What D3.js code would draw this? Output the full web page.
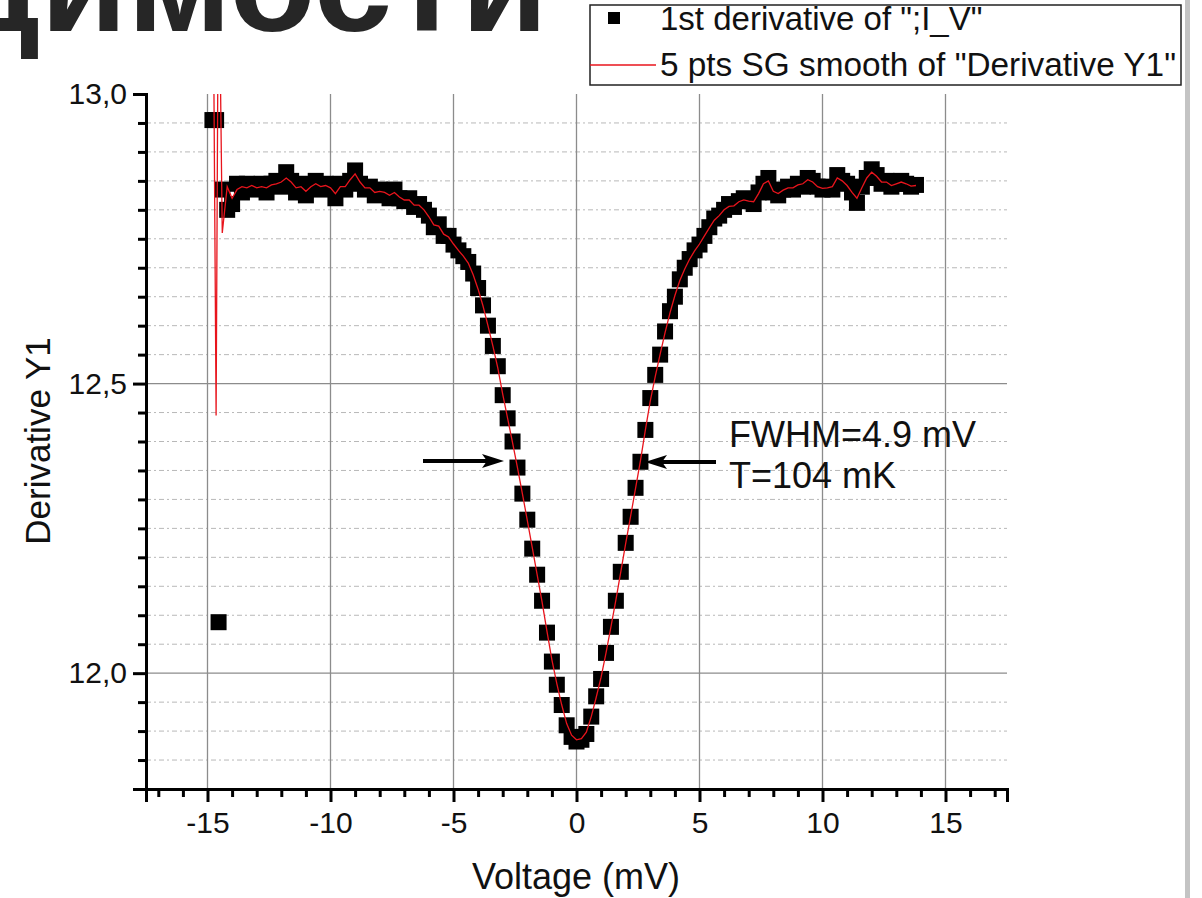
<!DOCTYPE html>
<html>
<head>
<meta charset="utf-8">
<script src="https://cdn.jsdelivr.net/npm/d3@7"></script>
<style>
  body { margin: 0; background: #fff; }
  svg { display: block; font-family: "Liberation Sans", Arial, sans-serif; }
</style>
</head>
<body>
<svg id="chart" width="1202" height="898"></svg>
<script>
// voltage (mV)
var voltage = [-14.8, -14.65, -14.55,
  -14.4, -14.2, -14.0, -13.8, -13.6, -13.4, -13.2, -13.0, -12.8, -12.6,
  -12.4, -12.2, -12.0, -11.8, -11.6, -11.4, -11.2, -11.0, -10.8, -10.6,
  -10.4, -10.2, -10.0, -9.8, -9.6, -9.4, -9.2, -9.0, -8.8, -8.6,
  -8.4, -8.2, -8.0, -7.8, -7.6, -7.4, -7.2, -7.0, -6.8, -6.6,
  -6.4, -6.2, -6.0, -5.8, -5.6, -5.4, -5.2, -5.0, -4.8, -4.6,
  -4.4, -4.2, -4.0, -3.8, -3.6, -3.4, -3.2, -3.0, -2.8, -2.6,
  -2.4, -2.2, -2.0, -1.8, -1.6, -1.4, -1.2, -1.0, -0.8, -0.6,
  -0.4, -0.2, 0.0, 0.2, 0.4, 0.6, 0.8, 1.0, 1.2, 1.4,
  1.6, 1.8, 2.0, 2.2, 2.4, 2.6, 2.8, 3.0, 3.2, 3.4,
  3.6, 3.8, 4.0, 4.2, 4.4, 4.6, 4.8, 5.0, 5.2, 5.4,
  5.6, 5.8, 6.0, 6.2, 6.4, 6.6, 6.8, 7.0, 7.2, 7.4,
  7.6, 7.8, 8.0, 8.2, 8.4, 8.6, 8.8, 9.0, 9.2, 9.4,
  9.6, 9.8, 10.0, 10.2, 10.4, 10.6, 10.8, 11.0, 11.2, 11.4,
  11.6, 11.8, 12.0, 12.2, 12.4, 12.6, 12.8, 13.0, 13.2, 13.4,
  13.6, 13.8];

// 1st derivative of ";I_V" (squares)
var derivY1 = [12.955, 12.955, 12.088,
  12.835, 12.80, 12.81, 12.845, 12.83, 12.845, 12.84, 12.835, 12.845, 12.83,
  12.845, 12.85, 12.84, 12.865, 12.85, 12.83, 12.845, 12.825, 12.84, 12.85,
  12.835, 12.845, 12.84, 12.82, 12.845, 12.835, 12.85, 12.868, 12.845, 12.835,
  12.84, 12.825, 12.835, 12.83, 12.82, 12.835, 12.82, 12.815, 12.82, 12.805,
  12.81, 12.80, 12.79, 12.77, 12.775, 12.755, 12.755, 12.74, 12.73, 12.72,
  12.71, 12.69, 12.665, 12.635, 12.60, 12.565, 12.53, 12.48, 12.44, 12.40,
  12.355, 12.31, 12.265, 12.215, 12.17, 12.125, 12.07, 12.02, 11.98, 11.945,
  11.91, 11.89, 11.882, 11.885, 11.895, 11.925, 11.96, 11.99, 12.035, 12.08,
  12.125, 12.175, 12.225, 12.27, 12.32, 12.365, 12.42, 12.475, 12.515, 12.55,
  12.59, 12.625, 12.65, 12.68, 12.70, 12.715, 12.73, 12.74, 12.755, 12.77,
  12.785, 12.79, 12.80, 12.81, 12.805, 12.815, 12.82, 12.815, 12.81, 12.83,
  12.845, 12.855, 12.83, 12.825, 12.835, 12.84, 12.835, 12.845, 12.84, 12.855,
  12.85, 12.84, 12.835, 12.84, 12.835, 12.86, 12.85, 12.845, 12.83, 12.812,
  12.84, 12.855, 12.87, 12.86, 12.845, 12.85, 12.84, 12.845, 12.85, 12.845,
  12.84, 12.843];

// 5 pts SG smooth of "Derivative Y1" (red line)
var smoothY1 = [13.4, 12.445, 13.3,
  12.76, 12.84, 12.82, 12.835, 12.84, 12.838, 12.842, 12.838, 12.84, 12.838,
  12.843, 12.845, 12.848, 12.855, 12.848, 12.838, 12.84, 12.832, 12.84, 12.845,
  12.84, 12.842, 12.838, 12.828, 12.84, 12.84, 12.852, 12.862, 12.848, 12.838,
  12.838, 12.83, 12.832, 12.83, 12.825, 12.83, 12.822, 12.817, 12.817, 12.808,
  12.808, 12.80, 12.788, 12.774, 12.772, 12.758, 12.753, 12.741, 12.73, 12.72,
  12.708, 12.688, 12.663, 12.634, 12.60, 12.565, 12.527, 12.482, 12.44, 12.398,
  12.355, 12.31, 12.264, 12.217, 12.17, 12.123, 12.072, 12.023, 11.982, 11.945,
  11.913, 11.893, 11.885, 11.887, 11.898, 11.925, 11.958, 11.993, 12.035, 12.08,
  12.126, 12.175, 12.224, 12.271, 12.319, 12.367, 12.42, 12.47, 12.512, 12.551,
  12.588, 12.622, 12.652, 12.678, 12.698, 12.715, 12.729, 12.741, 12.755, 12.769,
  12.782, 12.79, 12.80, 12.806, 12.807, 12.814, 12.817, 12.815, 12.814, 12.828,
  12.845, 12.85, 12.832, 12.828, 12.834, 12.838, 12.838, 12.843, 12.845, 12.852,
  12.848, 12.84, 12.837, 12.838, 12.84, 12.855, 12.85, 12.842, 12.83, 12.82,
  12.838, 12.855, 12.865, 12.858, 12.848, 12.848, 12.842, 12.845, 12.848, 12.845,
  12.841, 12.842];

var xMajorTicks = [-15, -10, -5, 0, 5, 10, 15];
var xTickLabels = ["-15", "-10", "-5", "0", "5", "10", "15"];
var yMajorTicks = [12.0, 12.5, 13.0];
var yTickLabels = ["12,0", "12,5", "13,0"];

(function() {
  var svg = d3.select("#chart");
  var left = 146, right = 1007, plotTop = 94, bottom = 789;

  var x = d3.scaleLinear().domain([-17.5, 17.5]).range([left, right]);
  var y = d3.scaleLinear().domain([11.8, 13.0]).range([bottom, plotTop]);

  var xMinor = d3.range(-17, 18, 1).filter(function(v) { return v % 5 !== 0; });
  var yMinor = d3.range(1, 24).map(function(k) { return 11.8 + k * 0.05; })
    .filter(function(v) { return Math.abs(v * 2 - Math.round(v * 2)) > 0.01; });

  svg.append("rect").attr("width", 1202).attr("height", 898).attr("fill", "#fff");

  // big heading fragment from the slide
  svg.append("text")
    .attr("x", 548).attr("y", 31)
    .attr("text-anchor", "end")
    .attr("font-size", 141).attr("font-weight", "bold")
    .attr("fill", "#262626")
    .text("димости");

  // grid
  var grid = svg.append("g");
  grid.selectAll(".ymin").data(yMinor).enter().append("line")
    .attr("x1", left).attr("x2", right)
    .attr("y1", function(d) { return y(d); }).attr("y2", function(d) { return y(d); })
    .attr("stroke", "#b8b8b8").attr("stroke-width", 1)
    .attr("stroke-dasharray", "5,3,2,3");
  grid.selectAll(".ymaj").data([12.0, 12.5]).enter().append("line")
    .attr("x1", left).attr("x2", right)
    .attr("y1", function(d) { return y(d); }).attr("y2", function(d) { return y(d); })
    .attr("stroke", "#8c8c8c").attr("stroke-width", 1.3);
  grid.selectAll(".xmaj").data(xMajorTicks).enter().append("line")
    .attr("x1", function(d) { return x(d); }).attr("x2", function(d) { return x(d); })
    .attr("y1", plotTop).attr("y2", bottom)
    .attr("stroke", "#8c8c8c").attr("stroke-width", 1.3);

  // data
  svg.append("clipPath").attr("id", "plotclip")
    .append("rect").attr("x", left).attr("y", plotTop).attr("width", right - left).attr("height", bottom - plotTop);

  var pts = voltage.map(function(v, i) { return {v: v, d: derivY1[i], s: smoothY1[i]}; });
  var plot = svg.append("g").attr("clip-path", "url(#plotclip)");
  var sq = 16;
  plot.selectAll(".pt").data(pts).enter().append("rect")
    .attr("x", function(d) { return x(d.v) - sq / 2; })
    .attr("y", function(d) { return y(d.d) - sq / 2; })
    .attr("width", sq).attr("height", sq)
    .attr("fill", "#000");
  plot.append("path")
    .datum(pts)
    .attr("fill", "none").attr("stroke", "#e8141c").attr("stroke-width", 1.3)
    .attr("d", d3.line().x(function(d) { return x(d.v); }).y(function(d) { return y(d.s); }));

  // axes
  svg.append("g").attr("transform", "translate(0," + bottom + ")")
    .call(d3.axisBottom(x).tickValues(xMajorTicks).tickSize(13).tickPadding(10)
      .tickFormat(function(d, i) { return xTickLabels[i]; }));
  svg.append("g").attr("transform", "translate(0," + bottom + ")")
    .call(d3.axisBottom(x).tickValues(xMinor).tickSize(8).tickFormat(""));
  svg.append("g").attr("transform", "translate(" + left + ",0)")
    .call(d3.axisLeft(y).tickValues(yMajorTicks).tickSize(13).tickPadding(6)
      .tickFormat(function(d, i) { return yTickLabels[i]; }));
  svg.append("g").attr("transform", "translate(" + left + ",0)")
    .call(d3.axisLeft(y).tickValues(yMinor).tickSize(8).tickFormat(""));

  svg.selectAll(".domain").attr("stroke", "#000").attr("stroke-width", 3);
  svg.selectAll(".tick line").attr("stroke", "#000").attr("stroke-width", 3);
  svg.selectAll(".tick text").attr("font-size", 30).attr("fill", "#111")
    .attr("font-family", "Liberation Sans, Arial, sans-serif");

  // axis titles
  svg.append("text")
    .attr("x", 576).attr("y", 889)
    .attr("text-anchor", "middle").attr("font-size", 36).attr("fill", "#111")
    .text("Voltage (mV)");
  svg.append("text")
    .attr("transform", "translate(50,441) rotate(-90)")
    .attr("text-anchor", "middle").attr("font-size", 35).attr("fill", "#111")
    .text("Derivative Y1");

  // annotation
  svg.append("text").attr("x", 729).attr("y", 447).attr("font-size", 36).attr("fill", "#111")
    .text("FWHM=4.9 mV");
  svg.append("text").attr("x", 729).attr("y", 488).attr("font-size", 36).attr("fill", "#111")
    .text("T=104 mK");

  function arrow(x1, x2, yy) {
    var dir = x2 > x1 ? 1 : -1;
    svg.append("line").attr("x1", x1).attr("y1", yy).attr("x2", x2 - dir * 14).attr("y2", yy)
      .attr("stroke", "#000").attr("stroke-width", 4);
    svg.append("path")
      .attr("d", "M" + x2 + "," + yy + " L" + (x2 - dir * 22) + "," + (yy - 7) +
        " L" + (x2 - dir * 17) + "," + yy + " L" + (x2 - dir * 22) + "," + (yy + 7) + "Z")
      .attr("fill", "#000");
  }
  arrow(423, 504, 461);
  arrow(716, 645, 462);

  // legend
  var lg = svg.append("g");
  lg.append("rect").attr("x", 590).attr("y", 5).attr("width", 591).attr("height", 80)
    .attr("fill", "#fff").attr("stroke", "#222").attr("stroke-width", 1.5);
  lg.append("rect").attr("x", 608).attr("y", 12).attr("width", 12).attr("height", 12).attr("fill", "#000");
  lg.append("text").attr("x", 660).attr("y", 30).attr("font-size", 33).attr("fill", "#111")
    .text("1st derivative of \";I_V\"");
  lg.append("line").attr("x1", 590).attr("x2", 656).attr("y1", 65).attr("y2", 65)
    .attr("stroke", "#e8141c").attr("stroke-width", 1.5);
  lg.append("text").attr("x", 660).attr("y", 76).attr("font-size", 33).attr("fill", "#111")
    .attr("textLength", 516).attr("lengthAdjust", "spacingAndGlyphs")
    .text("5 pts SG smooth of \"Derivative Y1\"");

  // slide edge
  svg.append("rect").attr("x", 1185).attr("y", 0).attr("width", 5).attr("height", 898).attr("fill", "#c4c4c4");
})();
</script>
</body>
</html>
